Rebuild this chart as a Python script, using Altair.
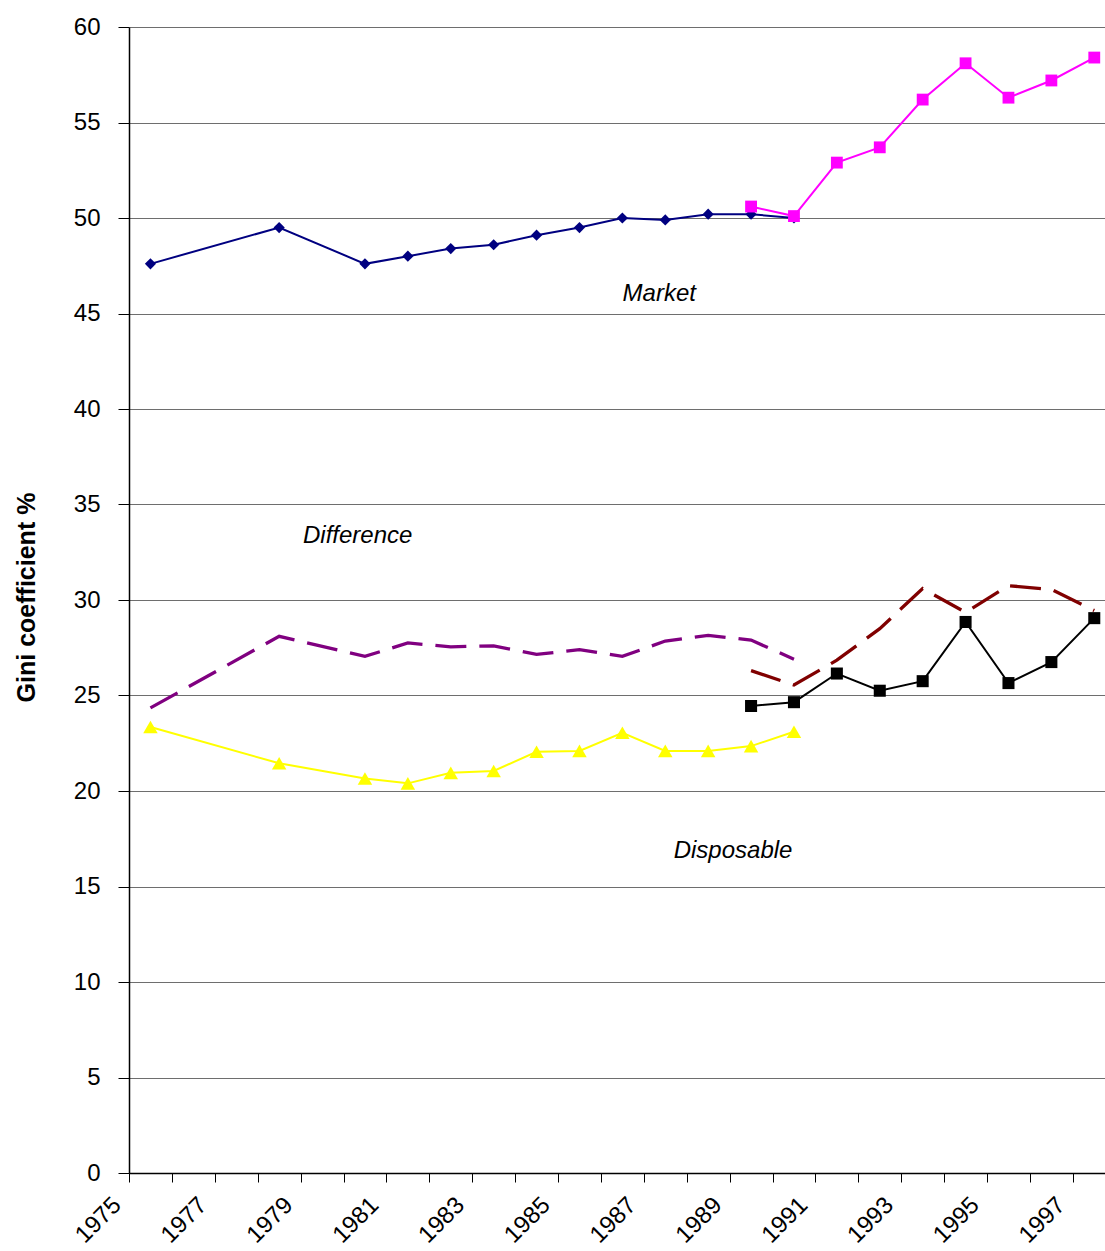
import altair as alt
import pandas as pd

# Gini coefficients (%), earlier series
years_early = [1975, 1978, 1980, 1981, 1982, 1983, 1984, 1985, 1986, 1987, 1988, 1989, 1990]
market_early = [47.6, 49.5, 47.6, 48.0, 48.4, 48.6, 49.1, 49.5, 50.0, 49.9, 50.2, 50.2, 50.0]
difference_early = [24.35, 28.1, 27.05, 27.75, 27.55, 27.6, 27.15, 27.4, 27.05, 27.85, 28.15, 27.9, 26.9]
disposable_early = [23.35, 21.45, 20.65, 20.4, 20.95, 21.05, 22.05, 22.1, 23.05, 22.1, 22.1, 22.35, 23.1]

# Gini coefficients (%), later series
years_late = [1989, 1990, 1991, 1992, 1993, 1994, 1995, 1996, 1997]
market_late = [50.6, 50.1, 52.9, 53.7, 56.2, 58.1, 56.3, 57.2, 58.4]
difference_late = [26.3, 25.55, 26.85, 28.5, 30.6, 29.35, 30.75, 30.55, 29.45]
disposable_late = [24.45, 24.65, 26.15, 25.25, 25.75, 28.85, 25.65, 26.75, 29.05]

x_ticks = list(range(1975, 1998))
y_ticks = list(range(0, 61, 5))

# In-chart captions
caption_text = ["Market", "Difference", "Disposable"]
caption_year = [1987.36, 1980.33, 1989.08]
caption_value = [45.63, 32.97, 16.48]

frames = []
for key, yrs, vals in [
    ("market_early", years_early, market_early),
    ("difference_early", years_early, difference_early),
    ("disposable_early", years_early, disposable_early),
    ("market_late", years_late, market_late),
    ("difference_late", years_late, difference_late),
    ("disposable_late", years_late, disposable_late),
]:
    frames.append(pd.DataFrame({"year": yrs, "gini": vals, "series": key}))
data = pd.concat(frames, ignore_index=True)

captions = pd.DataFrame({"label": caption_text, "year": caption_year, "gini": caption_value})

FONT = "Liberation Sans"

x_scale = alt.Scale(domain=[1975, 1997.75], nice=False, zero=False)
y_scale = alt.Scale(domain=[0, 60], nice=False, zero=True)

x_axis = alt.Axis(
    values=x_ticks, format="d",
    labelExpr="datum.value % 2 == 1 ? datum.label : ''",
    labelAngle=315, labelAlign="right", labelBaseline="alphabetic",
    labelOffset=-7, labelPadding=24, labelFontSize=24, labelColor="black",
    labelOverlap=False, labelBound=False, labelFlush=False,
    tickSize=9, tickColor="black", domainColor="black", domainWidth=1.5,
    grid=False, title=None,
)
y_axis = alt.Axis(
    values=y_ticks, labelFontSize=24, labelColor="black", labelPadding=18,
    tickSize=11, tickColor="black", domainColor="black", domainWidth=1.5,
    grid=True, gridColor="#6e6e6e", gridWidth=1,
    title="Gini coefficient %", titleFontSize=25, titleFontWeight="bold",
    titleColor="black", titleAngle=270, titleAlign="center",
    titleBaseline="alphabetic", titleX=-95, titleY=570,
)

base = alt.Chart(data).transform_calculate(xpos="datum.year + 0.5")

X = alt.X("xpos:Q", scale=x_scale, axis=x_axis)
Y = alt.Y("gini:Q", scale=y_scale, axis=y_axis)

# series key, colour, line width, dash, marker shape, marker size
styles = [
    ("difference_early", "#800080", 3.3, [31, 13], None, 0),
    ("difference_late", "#800000", 3.3, [31, 13], None, 0),
    ("disposable_early", "#FFFF00", 2, None, "triangle-up", 210),
    ("market_early", "#000080", 2, None, "diamond", 125),
    ("disposable_late", "#000000", 2, None, "square", 145),
    ("market_late", "#FF00FF", 2, None, "square", 140),
]

layers = []
for key, color, width, dash, shape, size in styles:
    sub = base.transform_filter(alt.datum.series == key)
    line_kw = dict(color=color, strokeWidth=width)
    if dash:
        line_kw["strokeDash"] = dash
    layers.append(sub.mark_line(**line_kw).encode(x=X, y=Y))
    if shape:
        layers.append(
            sub.mark_point(shape=shape, size=size, filled=True, color=color, opacity=1)
            .encode(x=X, y=Y)
        )

labels = alt.Chart(captions).mark_text(
    font=FONT, fontSize=24, fontStyle="italic", color="black",
    align="center", baseline="alphabetic",
).encode(
    x=alt.X("year:Q", scale=x_scale),
    y=alt.Y("gini:Q", scale=y_scale),
    text="label:N",
)

chart = (
    alt.layer(*layers, labels)
    .properties(
        width=976, height=1146,
        autosize=alt.AutoSizeParams(type="none"),
        padding={"left": 129, "top": 27, "right": 0, "bottom": 78},
        background="white",
    )
    .configure(font=FONT)
    .configure_view(stroke=None)
    .configure_axis(labelFont=FONT, titleFont=FONT)
)

chart.save("out.html", embed_options={"renderer": "svg", "actions": False})
